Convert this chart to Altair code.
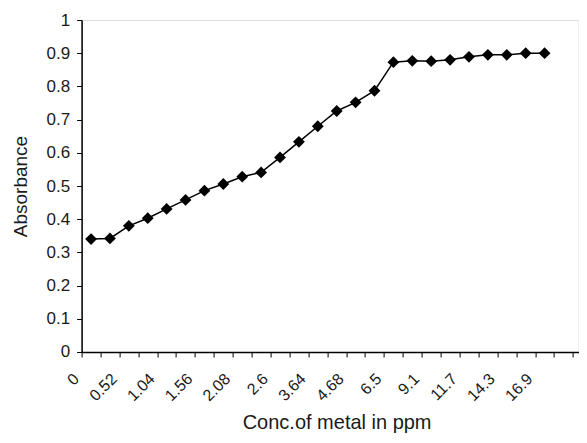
import altair as alt
import pandas as pd

# Concentration categories (ppm) in plotting order
conc = ["0", "0.26", "0.52", "0.78", "1.04", "1.3", "1.56", "1.82", "2.08", "2.34",
        "2.6", "3.12", "3.64", "4.16", "4.68", "5.59", "6.5", "7.8", "9.1", "10.4",
        "11.7", "13", "14.3", "15.6", "16.9"]
# Absorbance readings
absorbance = [0.340, 0.342, 0.380, 0.403, 0.431, 0.458, 0.486, 0.506, 0.528, 0.541,
              0.586, 0.633, 0.680, 0.726, 0.752, 0.787, 0.873, 0.877, 0.876, 0.880,
              0.889, 0.895, 0.895, 0.900, 0.900]
# Labels shown on the category axis (every other category)
tick_labels = ["0", "0.52", "1.04", "1.56", "2.08", "2.6", "3.64", "4.68", "6.5",
               "9.1", "11.7", "14.3", "16.9"]
y_ticks = [0, 0.1, 0.2, 0.3, 0.4, 0.5, 0.6, 0.7, 0.8, 0.9, 1.0]

n_cat_visible = 26.3  # axis continues past the last data category (cropped)

df = pd.DataFrame({
    "conc": conc,
    "pos": [i + 0.5 for i in range(len(conc))],
    "absorbance": absorbance,
})

label_array = "[" + ",".join('"' + t + '"' for t in tick_labels) + "]"
label_expr = ("(datum.value % 2 == 0 && datum.value / 2 < " + str(len(tick_labels)) +
              ") ? " + label_array + "[datum.value / 2] : ''")

x = alt.X(
    "pos:Q",
    scale=alt.Scale(domain=[0, n_cat_visible], nice=False, zero=False),
    axis=alt.Axis(
        values=list(range(0, 27)),
        labelExpr=label_expr,
        labelAngle=-45,
        labelAlign="right",
        labelBaseline="middle",
        labelOffset=-5.5,
        labelPadding=19,
        labelOverlap=False,
        labelFlush=False,
        labelBound=False,
        labelFontSize=16,
        labelColor="#1a1a1a",
        tickSize=5,
        tickColor="black",
        domainColor="black",
        domainWidth=1.5,
        grid=False,
        title="Conc.of metal in ppm",
        titleFontSize=20,
        titleFontWeight="normal",
        titleColor="#1a1a1a",
        titleX=255,
        titleY=77,
        titleBaseline="alphabetic",
    ),
)

y = alt.Y(
    "absorbance:Q",
    scale=alt.Scale(domain=[0, 1], nice=False),
    axis=alt.Axis(
        values=y_ticks,
        format=".1~f",
        labelFontSize=17,
        labelColor="#1a1a1a",
        labelPadding=7,
        tickSize=5,
        tickColor="black",
        domainColor="black",
        domainWidth=1.5,
        grid=False,
        title="Absorbance",
        titleFontSize=19,
        titleFontWeight="normal",
        titleColor="#1a1a1a",
        titleX=-61,
        titleY=166,
        titleBaseline="middle",
    ),
)

line = alt.Chart(df).mark_line(color="black", strokeWidth=1.5).encode(x=x, y=y)
pts = alt.Chart(df).mark_point(shape="diamond", filled=True, color="black",
                               size=140, opacity=1).encode(x=x, y=y)

chart = (line + pts).properties(
    width=497,
    height=332,
    autosize="none",
    padding={"left": 73.6, "top": 12, "right": 0, "bottom": 84},
).configure_view(stroke=None).configure(font="Liberation Sans", background="white")

chart.save("out.html", embed_options={"renderer": "svg", "actions": False})
